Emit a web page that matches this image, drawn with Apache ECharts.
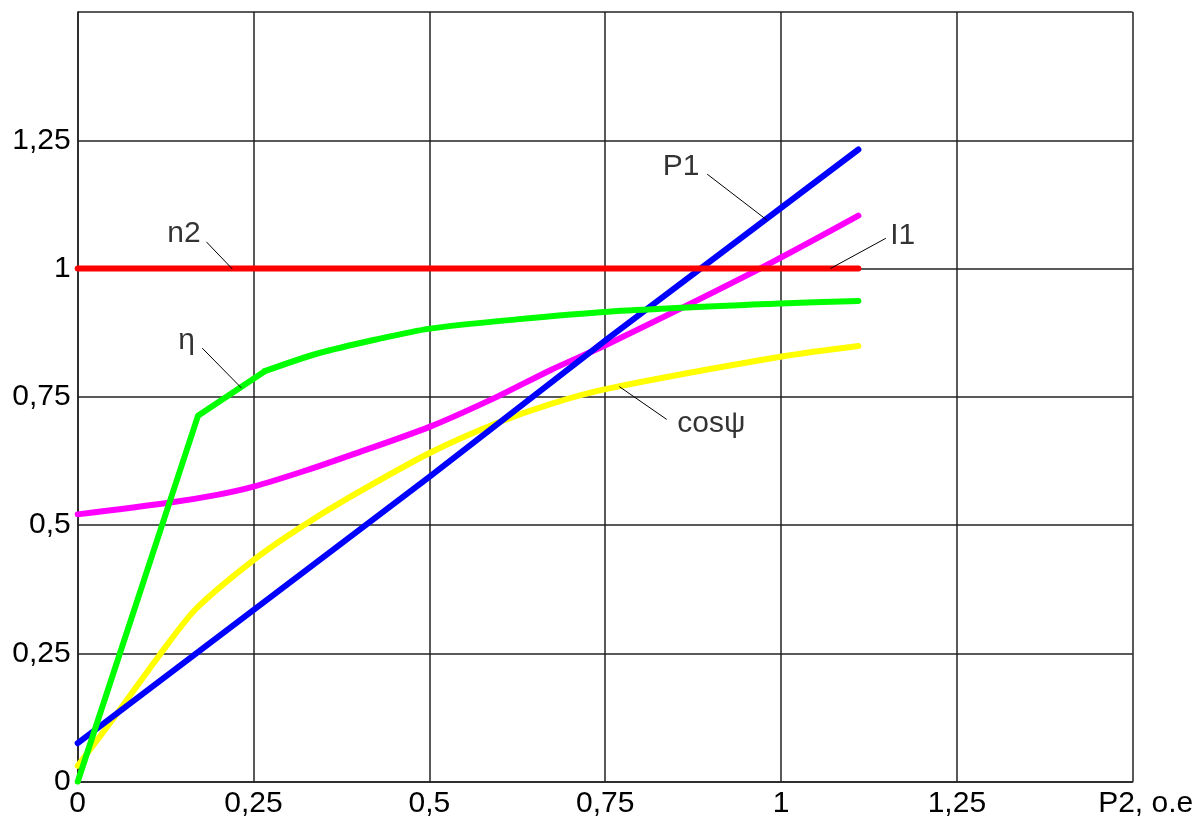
<!DOCTYPE html>
<html>
<head>
<meta charset="utf-8">
<script src="https://cdn.jsdelivr.net/npm/echarts@6/dist/echarts.min.js"></script>
<style>
html,body{margin:0;padding:0;background:#fff;}
#chart{width:1197px;height:819px;}
</style>
</head>
<body>
<div id="chart"></div>
<script>
// ---- data ----
var xTicks = [0, 0.25, 0.5, 0.75, 1, 1.25, 1.5];
var yTicks = [0, 0.25, 0.5, 0.75, 1, 1.25, 1.5];
var xAxisName = 'P2, o.e';

var P1 = [[0, 0.075], [0.5, 0.594], [0.755, 0.865], [1.11, 1.232]];
var n2 = [[0, 1], [1.11, 1]];
var etaStart = [[0, 0], [0.171, 0.713], [0.266, 0.800]];
var etaCurve = [[0.266, 0.800], [0.340, 0.834], [0.425, 0.862], [0.501, 0.883],
                [0.624, 0.901], [0.754, 0.916], [0.999, 0.932], [1.11, 0.937]];
var I1 = [[0, 0.521], [0.127, 0.543], [0.198, 0.559], [0.250, 0.575], [0.321, 0.605], [0.385, 0.635],
          [0.501, 0.692], [0.596, 0.750], [0.672, 0.802], [0.754, 0.853], [0.966, 0.997], [1.11, 1.103]];
var cosPsi = [[0, 0.031], [0.056, 0.133], [0.117, 0.248], [0.169, 0.338], [0.250, 0.432], [0.316, 0.495],
              [0.385, 0.553], [0.501, 0.641], [0.596, 0.699], [0.672, 0.736], [0.754, 0.766],
              [0.999, 0.828], [1.11, 0.849]];

// annotation labels (text anchor and leader line, in data units)
var annNames = ['P1', 'I1', 'n2', 'η', 'cosψ'];
var annText = [[0.858, 1.199], [1.173, 1.064], [0.151, 1.068], [0.155, 0.859], [0.901, 0.698]];
var annLineFrom = [[0.895, 1.184], [1.149, 1.059], [0.183, 1.052], [0.177, 0.845], [0.8375, 0.706]];
var annLineTo = [[0.980, 1.0945], [1.070, 1.0], [0.220, 0.999], [0.233, 0.767], [0.770, 0.770]];

var FONT = 'Liberation Sans, Arial, sans-serif';
var FS = 30;
function fmt(v) { return String(v).replace('.', ','); }

var chart = echarts.init(document.getElementById('chart'));

function lineSeries(name, data, color, smooth) {
  return {
    name: name, type: 'line', data: data, showSymbol: false, symbol: 'none',
    smooth: smooth || false, animation: false,
    lineStyle: { color: color, width: 6, cap: 'round', join: 'round' }
  };
}

var annData = annNames.map(function (n, i) { return { name: n, value: annText[i] }; });
var annLines = annNames.map(function (n, i) {
  return [{ coord: annLineFrom[i] }, { coord: annLineTo[i] }];
});

var option = {
  backgroundColor: '#fff',
  animation: false,
  grid: { left: 77.7, right: 64.3, top: 12, bottom: 37.3, containLabel: false },
  xAxis: {
    type: 'value', min: xTicks[0], max: xTicks[xTicks.length - 1], interval: 0.25,
    axisLine: { show: true, lineStyle: { color: '#222', width: 1.5 } },
    axisTick: { show: false },
    axisLabel: {
      show: true, margin: 7, color: '#000', fontFamily: FONT, fontSize: FS,
      showMaxLabel: true, showMinLabel: true,
      formatter: function (v) {
        if (Math.abs(v - 1.5) < 1e-9) return '{n|' + xAxisName + '}';
        return fmt(v);
      },
      rich: { n: { fontFamily: FONT, fontSize: FS, color: '#000', padding: [0, 0, 0, 26] } }
    },
    splitLine: { show: true, lineStyle: { color: '#222', width: 1.5 } }
  },
  yAxis: {
    type: 'value', min: yTicks[0], max: yTicks[yTicks.length - 1], interval: 0.25,
    axisLine: { show: true, lineStyle: { color: '#222', width: 1.5 } },
    axisTick: { show: false },
    axisLabel: {
      show: true, margin: 7, color: '#000', fontFamily: FONT, fontSize: FS,
      showMaxLabel: false,
      formatter: function (v) { return Math.abs(v - 1.5) < 1e-9 ? '' : fmt(v); }
    },
    splitLine: { show: true, lineStyle: { color: '#222', width: 1.5 } }
  },
  series: [
    lineSeries('I1', I1, '#ff00ff', 0.3),
    lineSeries('cosψ', cosPsi, '#ffff00', 0.3),
    lineSeries('P1', P1, '#0000ff', false),
    lineSeries('η', etaStart, '#00ff00', false),
    lineSeries('η', etaCurve, '#00ff00', 0.3),
    lineSeries('n2', n2, '#ff0000', false),
    {
      name: 'annotations', type: 'scatter', data: annData, symbolSize: 0, silent: true,
      animation: false, z: 10,
      label: {
        show: true, position: 'inside', formatter: '{b}', color: '#000',
        fontFamily: FONT, fontSize: FS
      },
      markLine: {
        silent: true, animation: false, symbol: ['none', 'none'],
        label: { show: false },
        lineStyle: { color: '#000', width: 1, type: 'solid' },
        data: annLines
      }
    }
  ]
};
chart.setOption(option);
</script>
</body>
</html>
